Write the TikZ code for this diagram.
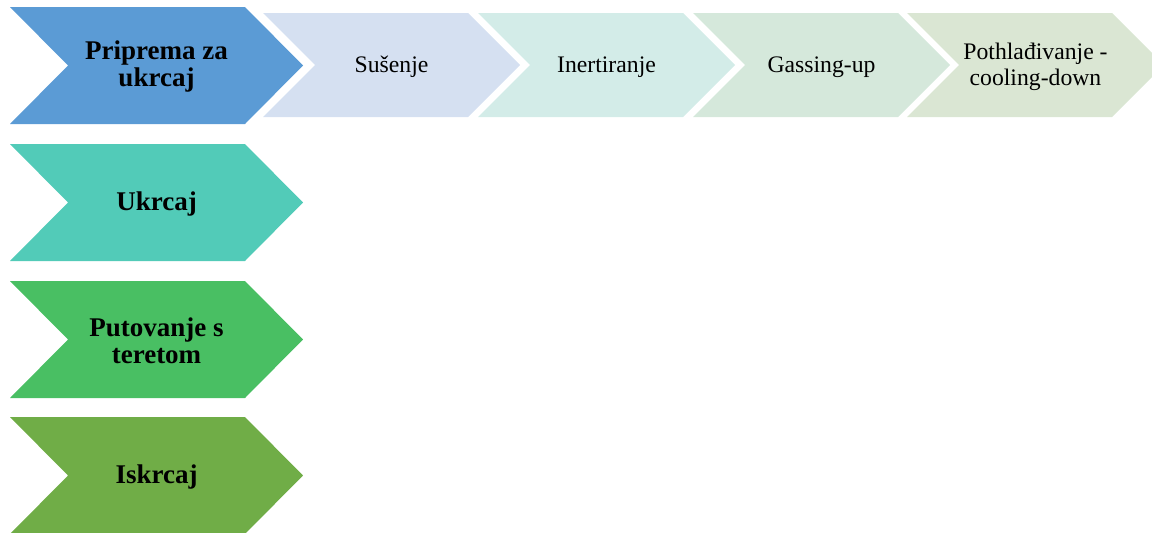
\documentclass[tikz,border=0pt]{standalone}
\usepackage{fontspec}
\setmainfont{Liberation Serif}
\definecolor{cblue}{HTML}{5B9BD5}
\definecolor{cteal}{HTML}{52CBB8}
\definecolor{cgreen}{HTML}{49BF63}
\definecolor{colive}{HTML}{70AD47}
\definecolor{lblue}{HTML}{D5E0F1}
\definecolor{lteal}{HTML}{D3ECE8}
\definecolor{lgreen}{HTML}{D5E8DB}
\definecolor{lolive}{HTML}{DAE6D3}
\newcommand{\chevshape}[6]{% x, ytop, total width, height, depth, colour
  \fill[#6] (#1,#2) -- ({#1+#3-#5},#2) -- ({#1+#3},{#2+#4/2}) -- ({#1+#3-#5},{#2+#4}) -- (#1,{#2+#4}) -- ({#1+#5},{#2+#4/2}) -- cycle;}
\tikzset{
  bigtext/.style={align=center, font=\fontsize{27}{27}\selectfont\bfseries, text=black, inner sep=0pt},
  smalltext/.style={align=center, font=\fontsize{23.7}{25.5}\selectfont, text=black, inner sep=0pt}
}
\begin{document}
\begin{tikzpicture}[x=1pt,y=-1pt]
\useasboundingbox (0,0) rectangle (1152,533);
\begin{scope}
\clip (0,0) rectangle (1152,533);
% big chevrons
\chevshape{10}{7}{293}{117}{58}{cblue}
\chevshape{10}{144}{293}{117}{58}{cteal}
\chevshape{10}{281}{293}{117}{58}{cgreen}
\chevshape{10}{417}{293}{117}{58}{colive}
% small chevrons
\chevshape{263}{13}{257}{104}{52}{lblue}
\chevshape{478}{13}{257}{104}{52}{lteal}
\chevshape{693}{13}{257}{104}{52}{lgreen}
\chevshape{907}{13}{257}{104}{52}{lolive}
\end{scope}
\node[bigtext] (prip) at (156.5,67) {Priprema za\\ukrcaj};
\node[bigtext] (ukr) at (156.5,204) {Ukrcaj};
\node[bigtext] (put) at (156.5,341) {Putovanje s\\teretom};
\node[bigtext] (isk) at (156.5,477) {Iskrcaj};
\node[smalltext] (sus) at (391.5,67) {Sušenje};
\node[smalltext] (iner) at (606.5,67) {Inertiranje};
\node[smalltext] (gas) at (821.5,67) {Gassing-up};
\node[smalltext] (poth) at (1035.5,67) {Pothlađivanje -\\cooling-down};
\end{tikzpicture}
\end{document}
